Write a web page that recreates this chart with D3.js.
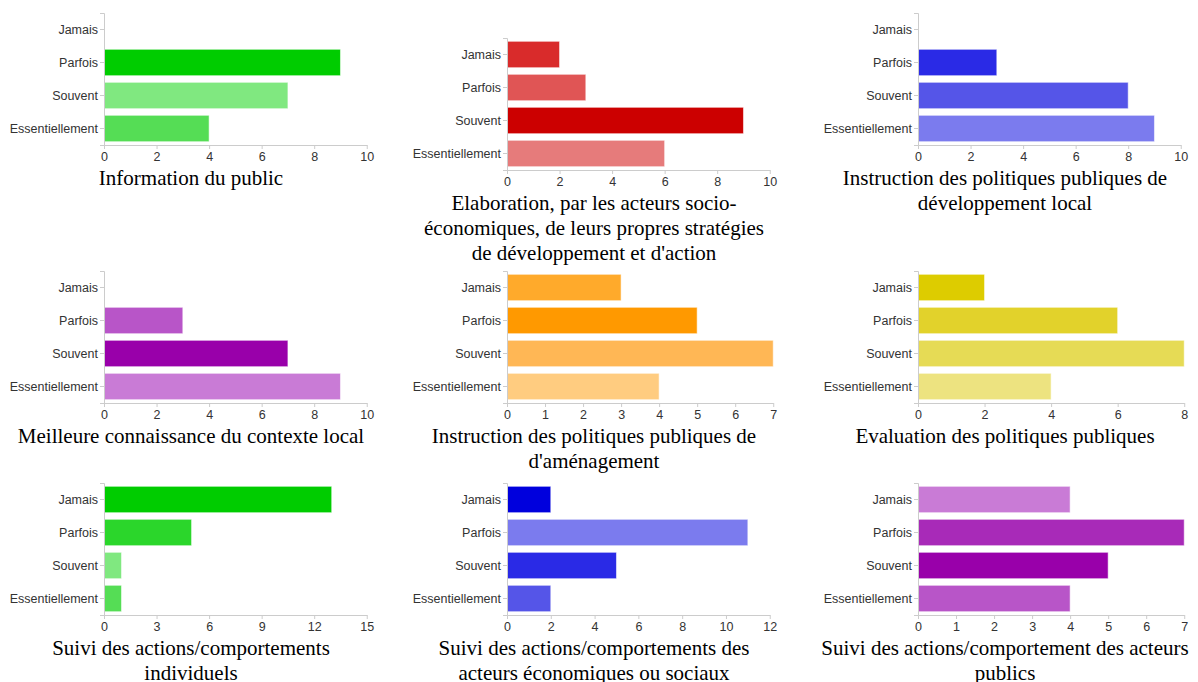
<!DOCTYPE html>
<html><head><meta charset="utf-8">
<script src="https://cdn.jsdelivr.net/npm/d3@7"></script>
<style>
html,body{margin:0;padding:0;background:#fff;}
.tick text{fill:#333;}
</style></head>
<body><svg id="c" width="1198" height="682"></svg>
<script>
const categories = ["Jamais", "Parfois", "Souvent", "Essentiellement"];

const infoPublic      = [0, 9, 7, 4];
const elaboration     = [2, 3, 9, 6];
const instrDevLocal   = [0, 3, 8, 9];
const connaissance    = [0, 3, 7, 9];
const instrAmenag     = [3, 5, 7, 4];
const evaluation      = [2, 6, 8, 4];
const suiviIndiv      = [13, 5, 1, 1];
const suiviEco        = [2, 11, 5, 2];
const suiviPublics    = [4, 7, 5, 4];

const colorsInfo      = ["#00cc00", "#00cc00", "#80e880", "#55dd55"];
const colorsElab      = ["#d92b2b", "#e05555", "#cc0000", "#e67b7b"];
const colorsDev       = ["#2a2ae6", "#2a2ae6", "#5555e8", "#7b7bee"];
const colorsConn      = ["#b855c8", "#b855c8", "#9900aa", "#c97bd6"];
const colorsAmenag    = ["#ffaa2b", "#ff9900", "#ffb755", "#ffcc80"];
const colorsEval      = ["#ddcc00", "#e2d22b", "#e6db55", "#ede380"];
const colorsIndiv     = ["#00cc00", "#2bd62b", "#80e880", "#55dd55"];
const colorsEco       = ["#0000dd", "#7b7bee", "#2a2ae6", "#5555e8"];
const colorsPublics   = ["#c97bd6", "#a82ab8", "#9900aa", "#b855c8"];

const ticks10 = [0, 2, 4, 6, 8, 10];
const ticks7  = [0, 1, 2, 3, 4, 5, 6, 7];
const ticks8  = [0, 2, 4, 6, 8];
const ticks15 = [0, 3, 6, 9, 12, 15];
const ticks12 = [0, 2, 4, 6, 8, 10, 12];

const titles = [
  ["Information du public"],
  ["Elaboration, par les acteurs socio-", "économiques, de leurs propres stratégies", "de développement et d'action"],
  ["Instruction des politiques publiques de", "développement local"],
  ["Meilleure connaissance du contexte local"],
  ["Instruction des politiques publiques de", "d'aménagement"],
  ["Evaluation des politiques publiques"],
  ["Suivi des actions/comportements", "individuels"],
  ["Suivi des actions/comportements des", "acteurs économiques ou sociaux"],
  ["Suivi des actions/comportement des acteurs", "publics"]
];
const seriesList = [infoPublic, elaboration, instrDevLocal, connaissance, instrAmenag, evaluation, suiviIndiv, suiviEco, suiviPublics];
const colorList  = [colorsInfo, colorsElab, colorsDev, colorsConn, colorsAmenag, colorsEval, colorsIndiv, colorsEco, colorsPublics];
const tickList   = [ticks10, ticks10, ticks10, ticks10, ticks7, ticks8, ticks15, ticks12, ticks7];

// layout
const colX = [104, 507, 918];
const topY = [13, 38, 13, 271, 271, 271, 483, 483, 483];
const plotH = 132;
const outerW = 269.7;
const titleOffset = 87;
const tickFont = "12.5px 'Liberation Sans', Arial, Helvetica, sans-serif";

const svg = d3.select("#c");

// measure text
const meas = svg.append("text").style("font", tickFont).attr("x", -1000).attr("y", -1000);
function tw(s){ meas.text(s); return meas.node().getComputedTextLength(); }

seriesList.forEach((vals, i) => {
  const ox = colX[i % 3], oy = topY[i];
  const tv = tickList[i];
  const maxV = tv[tv.length - 1];
  const plotW = outerW - tw(String(maxV)) / 2;
  const g = svg.append("g").attr("transform", `translate(${ox},${oy})`);
  const x = d3.scaleLinear().domain([0, maxV]).range([0, plotW]);
  const y = d3.scaleBand().domain(categories).range([0, plotH]).paddingInner(0.2).paddingOuter(0.1);

  g.selectAll("rect").data(vals).join("rect")
    .attr("x", 0)
    .attr("y", (d, j) => y(categories[j]))
    .attr("width", d => x(d))
    .attr("height", y.bandwidth())
    .attr("fill", (d, j) => colorList[i][j])
    .attr("stroke", "rgba(255,255,255,0.55)")
    .attr("stroke-width", 1);

  const ya = g.append("g").call(d3.axisLeft(y).tickSize(4).tickPadding(2));
  const xa = g.append("g").attr("transform", `translate(0,${plotH})`)
    .call(d3.axisBottom(x).tickValues(tv).tickFormat(d3.format("d")).tickSize(4).tickPadding(3).tickSizeOuter(0));
  [ya, xa].forEach(a => {
    a.select(".domain").attr("stroke", "#ccc");
    a.selectAll(".tick line").attr("stroke", "#ccc");
    a.selectAll(".tick text").style("font", tickFont).attr("fill", "#333");
  });

  const t = svg.append("text")
    .attr("x", ox + titleOffset)
    .attr("y", oy + plotH + 40)
    .attr("text-anchor", "middle")
    .style("font", "21px 'Liberation Serif', 'Times New Roman', serif")
    .attr("fill", "#000");
  titles[i].forEach((line, k) => {
    t.append("tspan").attr("x", ox + titleOffset).attr("dy", k === 0 ? 0 : 25).text(line);
  });
});
meas.remove();
</script></body></html>
